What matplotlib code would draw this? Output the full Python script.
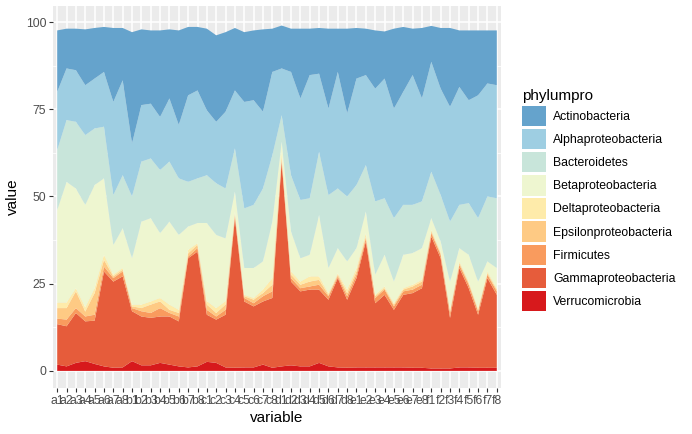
import matplotlib
matplotlib.use('Agg')
import matplotlib.pyplot as plt
from matplotlib.patches import Patch
import numpy as np

plt.rcParams['font.family'] = ['Liberation Sans', 'DejaVu Sans']

samples = ['a1', 'a2', 'a3', 'a4', 'a5', 'a6', 'a7', 'a8',
           'b1', 'b2', 'b3', 'b4', 'b5', 'b6', 'b7', 'b8',
           'c1', 'c2', 'c3', 'c4', 'c5', 'c6', 'c7', 'c8',
           'd1', 'd2', 'd3', 'd4', 'd5', 'd6', 'd7', 'd8',
           'e1', 'e2', 'e3', 'e4', 'e5', 'e6', 'e7', 'e8',
           'f1', 'f2', 'f3', 'f4', 'f5', 'f6', 'f7', 'f8']

# values per phylum, bottom of the stack first
verruco = [1.8, 1.3, 2.3, 2.8, 2.0, 1.3, 0.9, 1.0, 2.8, 1.6, 1.6, 2.3,
           1.8, 1.3, 1.0, 1.3, 2.6, 2.3, 1.0, 0.9, 1.0, 1.0, 1.8, 0.9,
           1.3, 1.6, 1.3, 1.3, 2.3, 1.3, 1.0, 0.9, 1.0, 1.0, 1.0, 1.0,
           1.0, 1.0, 0.9, 0.9, 0.7, 0.7, 0.7, 1.0, 1.0, 0.9, 0.9, 0.9]
gamma = [11.6, 11.5, 14.3, 11.4, 12.4, 27.2, 24.7, 26.1, 14.3, 14.0, 13.6, 13.3,
         13.8, 12.9, 31.3, 32.9, 13.5, 12.4, 15.1, 42.9, 18.9, 17.5, 18.1, 20.0,
         58.7, 24.0, 21.5, 22.0, 21.0, 19.1, 25.6, 19.5, 25.6, 36.1, 18.4, 20.8,
         16.5, 20.8, 21.4, 22.8, 37.8, 31.6, 14.5, 28.5, 22.7, 15.2, 25.7, 20.9]
firmicutes = [1.6, 1.9, 1.4, 1.4, 1.7, 1.4, 1.0, 1.4, 0.9, 1.5, 1.4, 2.4,
              1.0, 1.4, 0.5, 1.0, 1.4, 0.9, 1.4, 0.9, 1.0, 0.9, 1.5, 1.9,
              0.4, 1.0, 0.9, 0.9, 1.4, 1.0, 0.5, 1.0, 1.0, 0.9, 1.5, 1.5,
              1.0, 1.0, 1.0, 1.0, 1.0, 1.0, 1.4, 0.9, 1.0, 1.0, 1.0, 1.0]
epsilon = [3.0, 3.3, 4.8, 1.4, 6.2, 1.9, 0.5, 0.5, 0.5, 0.9, 2.4, 1.9,
           0.9, 1.0, 0.9, 0.9, 1.5, 1.0, 1.5, 0.5, 0.5, 1.0, 0.9, 1.9,
           1.0, 1.0, 1.0, 1.4, 1.4, 0.4, 0.5, 0.9, 0.9, 0.5, 0.5, 0.4,
           0.5, 0.5, 0.9, 0.9, 0.5, 0.4, 0.5, 0.5, 0.5, 0.4, 0.4, 0.5]
delta = [1.6, 1.6, 0.9, 1.2, 1.4, 1.5, 0.5, 0.5, 0.5, 1.0, 0.9, 1.0,
         1.5, 0.9, 1.0, 0.5, 1.0, 1.4, 1.0, 0.5, 0.4, 0.5, 1.0, 1.9,
         1.4, 0.9, 0.9, 1.5, 1.0, 0.5, 0.4, 1.0, 1.0, 1.0, 0.4, 0.5,
         0.4, 0.4, 0.5, 0.5, 0.4, 0.5, 0.4, 0.5, 0.4, 0.5, 0.5, 0.4]
beta = [26.5, 34.6, 28.6, 29.4, 29.6, 21.9, 8.5, 11.4, 13.3, 23.8, 23.9, 18.6,
        23.8, 21.5, 6.7, 5.8, 22.4, 21.0, 18.0, 5.7, 7.7, 8.6, 8.1, 16.2,
        2.9, 11.5, 6.7, 6.2, 17.6, 7.2, 7.2, 8.1, 5.7, 6.2, 5.8, 9.1,
        6.2, 9.6, 9.1, 9.1, 3.4, 2.9, 8.1, 3.8, 7.7, 7.6, 2.9, 5.8]
bacteroidetes = [17.2, 17.7, 19.1, 20.0, 16.2, 14.8, 14.3, 15.2, 17.7, 17.2, 17.1, 18.1,
                 17.2, 16.2, 12.8, 12.8, 13.7, 14.8, 14.3, 12.4, 17.1, 18.1, 20.9, 19.0,
                 7.6, 16.1, 16.7, 16.2, 18.1, 20.9, 17.1, 18.6, 18.1, 13.3, 21.0, 16.2,
                 18.2, 14.3, 13.8, 13.4, 13.3, 13.3, 17.2, 12.4, 14.8, 18.2, 18.6, 20.0]
alpha = [16.7, 14.8, 14.8, 14.3, 14.3, 15.7, 26.7, 27.2, 15.2, 16.2, 15.7, 15.2,
         18.1, 15.3, 24.8, 25.2, 18.6, 17.6, 22.0, 16.6, 30.5, 30.0, 22.0, 23.9,
         13.4, 29.6, 29.1, 35.3, 22.4, 24.8, 33.4, 23.8, 30.5, 25.8, 32.3, 34.3,
         31.4, 32.4, 37.2, 29.5, 31.5, 30.5, 32.9, 33.8, 29.5, 35.2, 32.4, 32.4]
actino = [17.6, 11.4, 11.9, 16.0, 14.5, 12.9, 21.2, 15.0, 31.9, 21.7, 21.0, 24.8,
          19.8, 27.1, 19.6, 18.2, 23.4, 24.8, 22.8, 17.9, 20.0, 20.0, 23.6, 12.4,
          12.3, 12.4, 20.0, 13.3, 13.1, 22.9, 12.4, 24.3, 14.5, 13.3, 16.7, 13.5,
          22.9, 18.6, 13.3, 20.2, 10.3, 17.4, 22.6, 16.2, 20.0, 18.6, 15.2, 15.7]

phyla = ['Verrucomicrobia', 'Gammaproteobacteria', 'Firmicutes',
         'Epsilonproteobacteria', 'Deltaproteobacteria', 'Betaproteobacteria',
         'Bacteroidetes', 'Alphaproteobacteria', 'Actinobacteria']
colors = ['#D7191C', '#E65C3B', '#F99B5E', '#FECA84', '#FEEBAA',
          '#EEF6D0', '#C8E5DA', '#9ECEE2', '#65A3CC']
series = [verruco, gamma, firmicutes, epsilon, delta, beta,
          bacteroidetes, alpha, actino]

fig = plt.figure(figsize=(6.92, 4.34), dpi=100)
ax = fig.add_axes([53 / 692, 46 / 434, 448 / 692, 382 / 434])

x = np.arange(len(samples))
ax.stackplot(x, *series, colors=colors, linewidth=0, zorder=3)

ax.set_facecolor('#EBEBEB')
ax.set_xlim(-0.45, len(samples) - 1 + 0.45)
ax.set_ylim(-4.9, 104.6)
ax.set_yticks([0, 25, 50, 75, 100])
ax.set_yticks([12.5, 37.5, 62.5, 87.5], minor=True)
ax.set_xticks(x)
ax.set_xticklabels(samples)
ax.grid(True, which='major', color='white', linewidth=1.1, zorder=0)
ax.grid(True, which='minor', axis='y', color='white', linewidth=0.55, zorder=0)
ax.set_axisbelow(True)
for s in ax.spines.values():
    s.set_visible(False)
ax.tick_params(which='major', length=2.75, color='#333333', labelsize=8.8,
               labelcolor='#4D4D4D', pad=2)
ax.tick_params(which='minor', length=0)
ax.set_xlabel('variable', fontsize=11, labelpad=3)
ax.set_ylabel('value', fontsize=11, labelpad=4)

handles = [Patch(facecolor=c, edgecolor='none', label=p)
           for p, c in zip(phyla[::-1], colors[::-1])]
leg = fig.legend(handles=handles, title='phylumpro', loc='upper left',
                 bbox_to_anchor=(522 / 692, 1 - 89 / 434), frameon=False,
                 fontsize=8.8, title_fontsize=11, handlelength=1.95,
                 handleheight=2.2, labelspacing=0.22, handletextpad=0.6,
                 borderpad=0, borderaxespad=0, alignment='left')

fig.savefig('out.png', dpi=100)
